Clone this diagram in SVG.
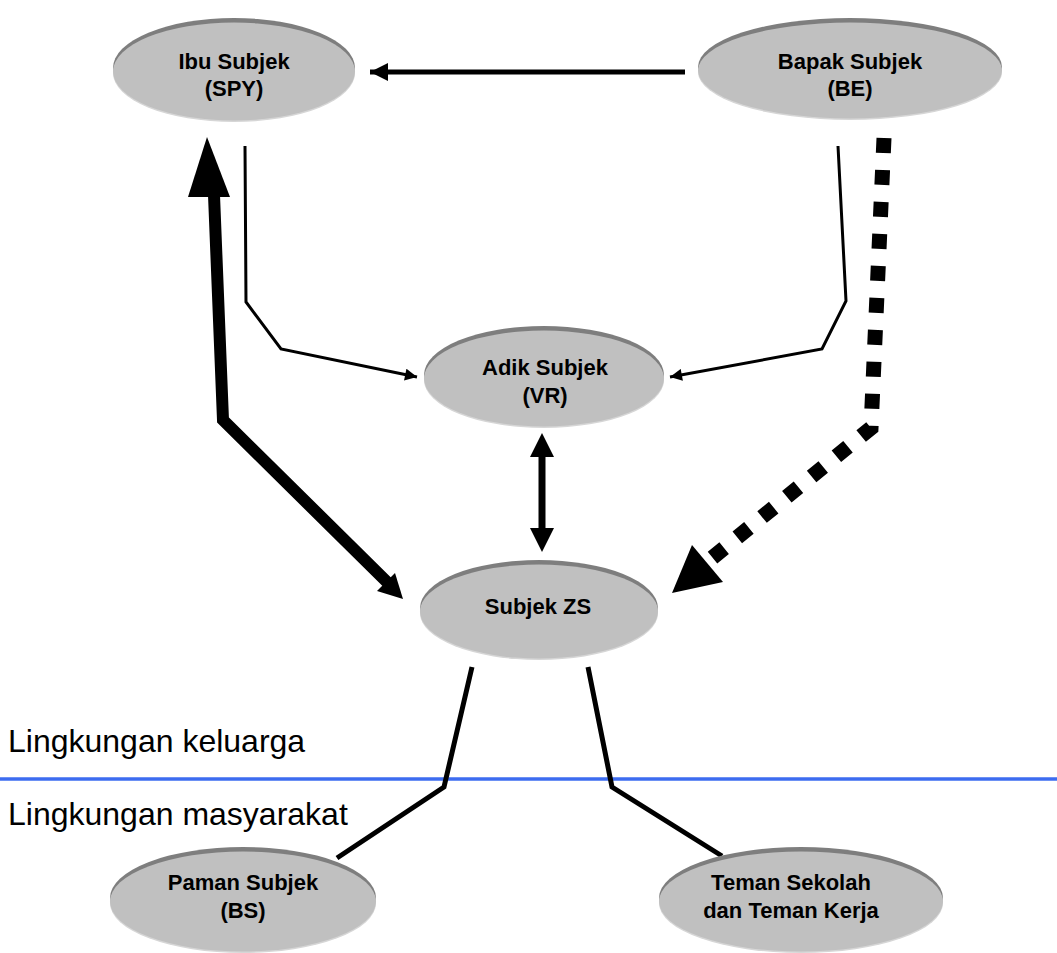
<svg xmlns="http://www.w3.org/2000/svg" width="1057" height="953" viewBox="0 0 1057 953">
  <style>
    .rim { fill: #7e7e7e; }
    .glow { fill: #d6d6d6; }
    .body { fill: #c0c0c0; }
    .lbl { font-family: "Liberation Sans", Arial, sans-serif; font-weight: bold; font-size: 22px; fill: #000; text-anchor: middle; }
    .zone { font-family: "Liberation Sans", Arial, sans-serif; font-size: 32px; fill: #000; }
    .thin { fill: none; stroke: #000; stroke-width: 3; stroke-linejoin: miter; }
    .mid { fill: none; stroke: #000; stroke-width: 5; }
  </style>
  <defs>
    <marker id="headThin" viewBox="0 0 10 10" refX="10" refY="5" markerWidth="14" markerHeight="12" markerUnits="userSpaceOnUse" orient="auto">
      <path d="M0,0 L10,5 L0,10 Z" fill="#000"/>
    </marker>
    <marker id="headMid" viewBox="0 0 10 10" refX="10" refY="5" markerWidth="26" markerHeight="18" markerUnits="userSpaceOnUse" orient="auto">
      <path d="M0,0 L10,5 L0,10 Z" fill="#000"/>
    </marker>
  </defs>

  <rect width="1057" height="953" fill="#fff"/>

  <!-- boundary between family and community -->
  <line x1="0" y1="779" x2="1057" y2="779" stroke="#3d6cf0" stroke-width="3.5"/>
  <text class="zone" x="8" y="752">Lingkungan keluarga</text>
  <text class="zone" x="8" y="825">Lingkungan masyarakat</text>

  <g id="connectors">
    <!-- Bapak to Ibu -->
    <line class="mid" x1="685" y1="72" x2="370" y2="72" marker-end="url(#headMid)"/>
    <!-- Ibu to Adik -->
    <polyline class="thin" points="245,146 246,302 281,349 417,377" marker-end="url(#headThin)"/>
    <!-- Bapak to Adik -->
    <polyline class="thin" points="838,146 846,301 822,349 670,377" marker-end="url(#headThin)"/>
    <!-- Bapak to Subjek ZS, dotted -->
    <polyline fill="none" stroke="#000" stroke-width="15" stroke-dasharray="15 17" points="884,138 871,428 712,558"/>
    <polygon points="672,593 692,545 723,582" fill="#000"/>
    <!-- Ibu and Subjek ZS, heavy -->
    <polyline fill="none" stroke="#000" stroke-width="12" stroke-linejoin="miter" points="214,195 223,420 388,583"/>
    <polygon points="207,137 188,197 230,197" fill="#000"/>
    <polygon points="403,599 377,591 395,573" fill="#000"/>
    <!-- Adik and Subjek ZS -->
    <line x1="542" y1="455" x2="542" y2="530" stroke="#000" stroke-width="7"/>
    <polygon points="542,433 530,457 554,457" fill="#000"/>
    <polygon points="542,552 530,528 554,528" fill="#000"/>
    <!-- Subjek ZS to community -->
    <polyline class="mid" points="472,667 444,787 337,858"/>
    <polyline class="mid" points="588,667 612,787 722,856"/>
  </g>

  <g id="ibu">
    <ellipse class="rim" cx="234" cy="68" rx="121" ry="50"/>
    <ellipse class="glow" cx="234" cy="73" rx="121" ry="49"/>
    <ellipse class="body" cx="234" cy="71.5" rx="121" ry="49"/>
    <text class="lbl" x="234" y="69">Ibu Subjek</text>
    <text class="lbl" x="234" y="96">(SPY)</text>
  </g>

  <g id="bapak">
    <ellipse class="rim" cx="850" cy="67" rx="152" ry="49"/>
    <ellipse class="glow" cx="850" cy="72" rx="152" ry="48"/>
    <ellipse class="body" cx="850" cy="70.5" rx="152" ry="48"/>
    <text class="lbl" x="850" y="69">Bapak Subjek</text>
    <text class="lbl" x="850" y="96">(BE)</text>
  </g>

  <g id="adik">
    <ellipse class="rim" cx="544" cy="375" rx="120" ry="49"/>
    <ellipse class="glow" cx="544" cy="380" rx="120" ry="48"/>
    <ellipse class="body" cx="544" cy="378.5" rx="120" ry="48"/>
    <text class="lbl" x="545" y="375">Adik Subjek</text>
    <text class="lbl" x="545" y="403">(VR)</text>
  </g>

  <g id="subjek">
    <ellipse class="rim" cx="539" cy="608" rx="119" ry="48"/>
    <ellipse class="glow" cx="539" cy="613" rx="119" ry="47"/>
    <ellipse class="body" cx="539" cy="611.5" rx="119" ry="47"/>
    <text class="lbl" x="538" y="614">Subjek ZS</text>
  </g>

  <g id="paman">
    <ellipse class="rim" cx="243" cy="898" rx="133" ry="51"/>
    <ellipse class="glow" cx="243" cy="903" rx="133" ry="50"/>
    <ellipse class="body" cx="243" cy="901.5" rx="133" ry="50"/>
    <text class="lbl" x="243" y="890">Paman Subjek</text>
    <text class="lbl" x="243" y="918">(BS)</text>
  </g>

  <g id="teman">
    <ellipse class="rim" cx="801" cy="898" rx="142" ry="51"/>
    <ellipse class="glow" cx="801" cy="903" rx="142" ry="50"/>
    <ellipse class="body" cx="801" cy="901.5" rx="142" ry="50"/>
    <text class="lbl" x="791" y="890">Teman Sekolah</text>
    <text class="lbl" x="791" y="918">dan Teman Kerja</text>
  </g>
</svg>
